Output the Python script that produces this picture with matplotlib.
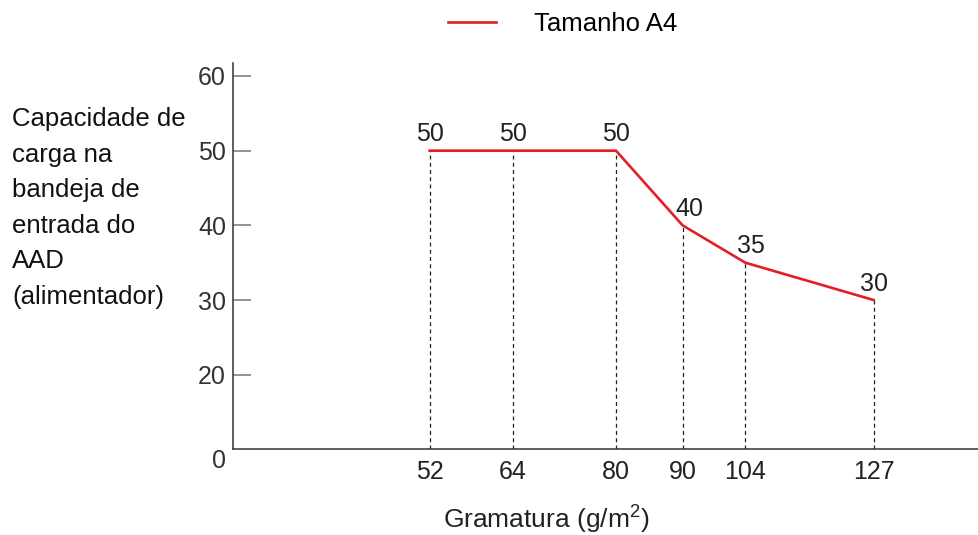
import numpy as np
import matplotlib
matplotlib.use('Agg')
import matplotlib.pyplot as plt

plt.rcParams['font.family'] = ['Liberation Sans', 'DejaVu Sans']
plt.rcParams['mathtext.default'] = 'regular'

# data
gramatura = [52, 64, 80, 90, 104, 127]
capacidade = [50, 50, 50, 40, 35, 30]
y_ticks = [20, 30, 40, 50, 60]
serie_nome = 'Tamanho A4'
x_titulo = 'Gramatura (g/m$^2$)'
y_titulo = 'Capacidade de\ncarga na\nbandeja de\nentrada do\nAAD\n(alimentador)'

# the x axis of the original is not linear, so map gramatura -> position
scale_gsm = [22, 52, 64, 80, 90, 104, 127, 145]
scale_pos = [0, 196.6, 280, 383, 449.6, 512.3, 640.6, 746.3]


def fwd(v):
    return np.interp(v, scale_gsm, scale_pos)


def inv(p):
    return np.interp(p, scale_pos, scale_gsm)


red = '#e31e24'
label_dx = [0, 0, 0, 5, 4, 0]

fig = plt.figure(figsize=(9.79, 5.35), dpi=100)
ax = fig.add_axes([233 / 979, 1 - 449 / 535, 746.3 / 979, (449 - 63) / 535])
ax.set_xscale('function', functions=(fwd, inv))
ax.set_xlim(22, 145)
ax.set_ylim(10.05, 61.74)

ax.plot(gramatura, capacidade, color=red, lw=1.9, label=serie_nome,
        solid_joinstyle='miter', zorder=3)
ybot = ax.get_ylim()[0]
ax.vlines(gramatura, ybot, capacidade, colors='#222222', lw=0.9,
          linestyles=(0, (3.2, 2.6)), zorder=2)

for g, c, dx in zip(gramatura, capacidade, label_dx):
    ax.annotate(str(c), (g, c), xytext=(dx, 3.2), textcoords='offset points',
                ha='center', va='bottom', fontsize=18, color='#222222')

for s in ['top', 'right']:
    ax.spines[s].set_visible(False)
for s in ['left', 'bottom']:
    ax.spines[s].set_color('#333333')
    ax.spines[s].set_linewidth(1.1)

ax.set_yticks(y_ticks)
ax.tick_params(axis='y', direction='in', length=13, width=1.1, color='#777777',
               pad=5, labelsize=18, labelcolor='#333333')
ax.set_xticks(gramatura)
ax.set_xticklabels([str(g) for g in gramatura])
ax.tick_params(axis='x', length=0, pad=8, labelsize=18, labelcolor='#222222')
ax.xaxis.set_minor_locator(matplotlib.ticker.NullLocator())

ax.annotate('0', (0, 0), xycoords='axes fraction', xytext=(-5, -9),
            textcoords='offset points', ha='right', va='center',
            fontsize=18, color='#333333')

fig.text(546 / 979, 1 - 520 / 535, x_titulo,
         ha='center', va='center', fontsize=19, color='#222222')
fig.text(12 / 979, 1 - 107 / 535, y_titulo, ha='left', va='top',
         fontsize=18.5, color='#111111', linespacing=1.61)

fig.legend(loc='center', bbox_to_anchor=(563 / 979, 1 - 24 / 535),
           frameon=False, fontsize=18.5, handlelength=1.85, handletextpad=1.5)

fig.savefig('out.png', dpi=100)
